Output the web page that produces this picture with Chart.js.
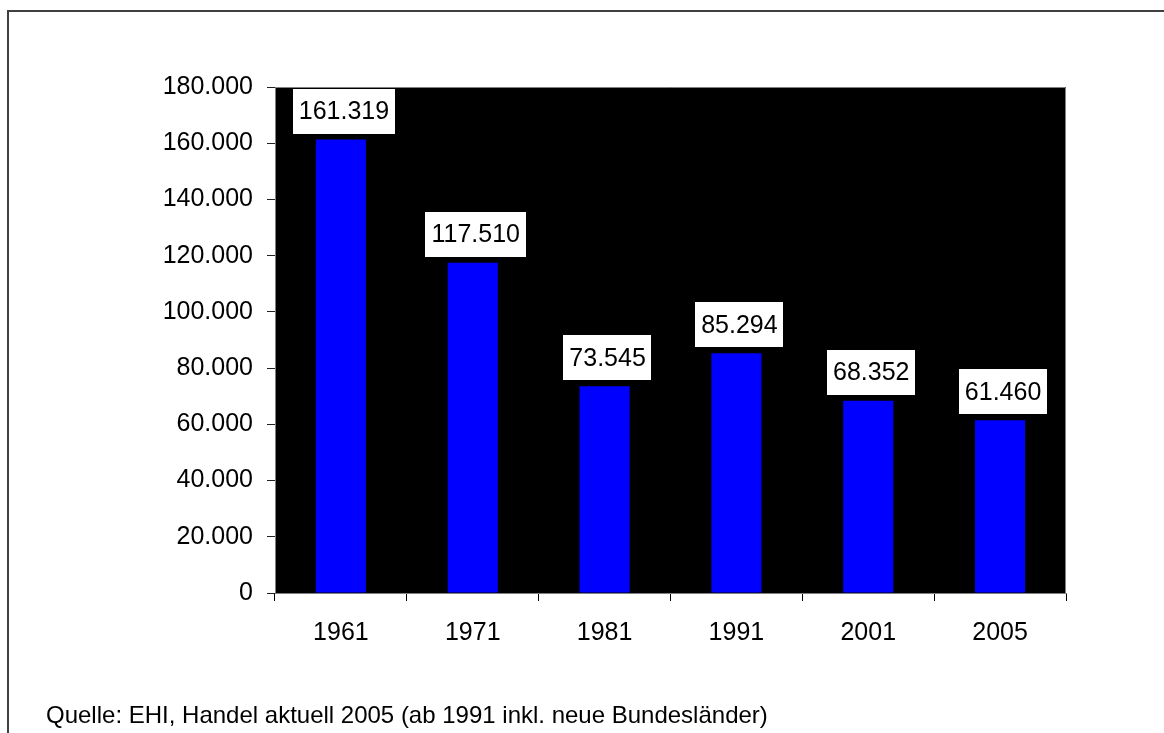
<!DOCTYPE html>
<html>
<head>
<meta charset="utf-8">
<script src="https://cdn.jsdelivr.net/npm/chart.js@4/dist/chart.umd.min.js"></script>
<style>
  body { margin: 0; background: #fff; }
  #wrap { position: relative; width: 1164px; height: 733px; overflow: hidden; }
  #frame { position: absolute; left: 7px; top: 10px; right: -10px; bottom: -10px;
           border-left: 2px solid #404040; border-top: 2px solid #404040; }
  canvas { position: absolute; left: 0; top: 0; }
</style>
</head>
<body>
<div id="wrap">
  <div id="frame"></div>
  <canvas id="chart" width="1164" height="733"></canvas>
</div>
<script>
'use strict';

// Daten
const years = ['1961', '1971', '1981', '1991', '2001', '2005'];
const stores = [161319, 117510, 73545, 85294, 68352, 61460];
const yMin = 0;
const yMax = 180000;
const yStep = 20000;
const sourceText = 'Quelle: EHI, Handel aktuell 2005 (ab 1991 inkl. neue Bundesländer)';

const FONT = "'Liberation Sans', Arial, sans-serif";

function formatDe(v) {
  return String(v).replace(/\B(?=(\d{3})+(?!\d))/g, '.');
}

// schwarzer Hintergrund im Diagrammbereich
const plotBackground = {
  id: 'plotBackground',
  beforeDraw(chart) {
    const a = chart.chartArea;
    const ctx = chart.ctx;
    ctx.save();
    ctx.fillStyle = '#000';
    ctx.fillRect(a.left, a.top, a.right - a.left, a.bottom - a.top);
    ctx.restore();
  },
  afterDraw(chart) {
    const a = chart.chartArea;
    const ctx = chart.ctx;
    ctx.save();
    ctx.strokeStyle = '#808080';
    ctx.lineWidth = 1;
    ctx.beginPath();
    ctx.moveTo(a.left, a.top + 0.5);
    ctx.lineTo(a.right - 0.5, a.top + 0.5);
    ctx.lineTo(a.right - 0.5, a.bottom);
    ctx.stroke();
    // Quelle
    ctx.fillStyle = '#000';
    ctx.font = '24px ' + FONT;
    ctx.textAlign = 'left';
    ctx.textBaseline = 'alphabetic';
    ctx.fillText(sourceText, 46, 723);
    ctx.restore();
  }
};

// weiße Wertekästchen über den Balken
const valueBoxes = {
  id: 'valueBoxes',
  afterDatasetsDraw(chart) {
    const ctx = chart.ctx;
    const meta = chart.getDatasetMeta(0);
    ctx.save();
    ctx.font = '25px ' + FONT;
    ctx.textAlign = 'center';
    ctx.textBaseline = 'middle';
    meta.data.forEach(function (bar, i) {
      const txt = formatDe(stores[i]);
      const w = ctx.measureText(txt).width + 12;
      const h = 45;
      const cx = bar.x + 3;
      const bottom = bar.y - 6;
      ctx.fillStyle = '#fff';
      ctx.fillRect(Math.round(cx - w / 2), Math.round(bottom - h), Math.round(w), h);
      ctx.fillStyle = '#000';
      ctx.fillText(txt, cx, bottom - h / 2 + 1);
    });
    ctx.restore();
  }
};

Chart.defaults.color = '#000';
Chart.defaults.font.family = FONT;
Chart.defaults.font.size = 25;

new Chart(document.getElementById('chart').getContext('2d'), {
  type: 'bar',
  data: {
    labels: years,
    datasets: [{
      data: stores,
      backgroundColor: '#0000FF',
      borderWidth: 0,
      barPercentage: 0.38,
      categoryPercentage: 1
    }]
  },
  options: {
    responsive: false,
    animation: false,
    events: [],
    layout: { padding: { left: 155, right: 98, top: 87, bottom: 90 } },
    plugins: {
      legend: { display: false },
      tooltip: { enabled: false }
    },
    scales: {
      x: {
        grid: { offset: true, drawOnChartArea: false, drawTicks: true, tickLength: 8, color: '#000' },
        border: { color: '#808080' },
        ticks: { padding: 17, font: { size: 25 } },
        afterFit(scale) { scale.height = 50; }
      },
      y: {
        min: yMin,
        max: yMax,
        grid: { drawOnChartArea: false, drawTicks: true, tickLength: 8, color: '#202020' },
        border: { color: '#808080' },
        ticks: {
          stepSize: yStep,
          padding: 14,
          font: { size: 25 },
          callback: function (value) { return formatDe(value); }
        },
        afterFit(scale) { scale.width = 120; }
      }
    }
  },
  plugins: [plotBackground, valueBoxes]
});
</script>
</body>
</html>
